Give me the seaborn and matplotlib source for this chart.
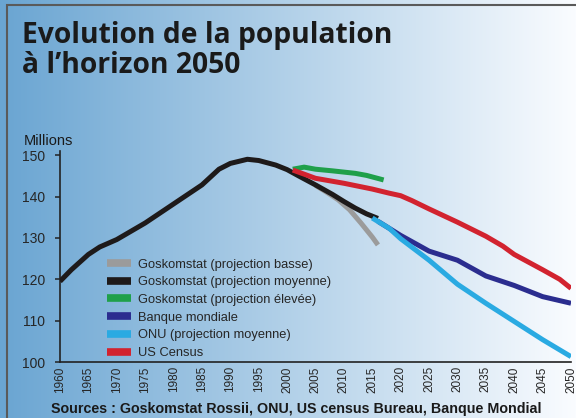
import numpy as np
import pandas as pd
import matplotlib
matplotlib.use("Agg")
import matplotlib.pyplot as plt
import seaborn as sns
from matplotlib.lines import Line2D
from matplotlib.patches import Rectangle

# historique + Goskomstat (projection moyenne)
moy_years = [1960, 1962, 1965, 1967, 1970, 1975, 1980, 1985, 1988, 1990, 1993,
             1995, 1998, 2000, 2002, 2005, 2008, 2010, 2012, 2014, 2016]
moy_vals = [119.5, 122.3, 126.0, 127.8, 129.6, 133.6, 138.2, 142.8, 146.6, 148.0, 149.0,
            148.7, 147.6, 146.5, 145.0, 142.8, 140.5, 138.8, 137.2, 135.8, 134.7]

basse_years = [2005, 2007, 2009, 2011, 2013, 2015, 2016]
basse_vals = [142.7, 141.0, 139.2, 136.8, 133.6, 130.2, 128.3]

haute_years = [2001, 2003, 2005, 2008, 2012, 2014, 2017]
haute_vals = [146.6, 147.1, 146.6, 146.2, 145.6, 145.1, 144.0]

bm_years = [2016, 2018, 2020, 2025, 2030, 2035, 2040, 2045, 2050]
bm_vals = [134.0, 132.3, 130.6, 126.8, 124.6, 120.8, 118.5, 115.8, 114.2]

onu_years = [2015, 2018, 2020, 2025, 2030, 2035, 2040, 2045, 2050]
onu_vals = [134.8, 132.3, 129.8, 124.6, 118.8, 114.2, 109.8, 105.4, 101.3]

usc_years = [2001, 2005, 2010, 2015, 2018, 2020, 2022, 2025, 2030, 2035, 2038, 2040, 2045, 2048, 2050]
usc_vals = [146.4, 144.4, 143.2, 141.8, 140.8, 140.2, 139.0, 137.0, 133.8, 130.4, 128.0,
            126.0, 122.3, 120.0, 117.8]

series = [
    ("Goskomstat (projection basse)", basse_years, basse_vals, "#9b9b9b"),
    ("Goskomstat (projection moyenne)", moy_years, moy_vals, "#1e1a1a"),
    ("Goskomstat (projection élevée)", haute_years, haute_vals, "#1fa04a"),
    ("Banque mondiale", bm_years, bm_vals, "#2b2d8f"),
    ("ONU (projection moyenne)", onu_years, onu_vals, "#2aaae2"),
    ("US Census", usc_years, usc_vals, "#d2232f"),
]
draw_order = [0, 4, 3, 2, 5, 1]

x_ticks = list(range(1960, 2051, 5))
y_ticks = [100, 110, 120, 130, 140, 150]

sns.set_style("ticks")
plt.rcParams['font.family'] = ['Liberation Sans', 'DejaVu Sans']

fig = plt.figure(figsize=(5.76, 4.18), dpi=100)

# fond en degrade
bg = fig.add_axes([0, 0, 1, 1], zorder=0)
grad = np.linspace(0, 1, 256)
left = np.array([106, 165, 210]) / 255
right = np.array([250, 252, 255]) / 255
img = left[None, :] * (1 - grad[:, None]) + right[None, :] * grad[:, None]
bg.imshow(img[None, :, :], aspect='auto', extent=[0, 1, 0, 1])
bg.add_patch(Rectangle((7 / 576, -0.1), 1.2, 1 - 5 / 418 + 0.1, fill=False,
                       edgecolor='#5a5a5a', linewidth=1.5))
bg.set_xlim(0, 1)
bg.set_ylim(0, 1)
bg.axis('off')

ax = fig.add_axes([60 / 576, 1 - 362 / 418, 511 / 576, 211 / 418], zorder=1)
ax.patch.set_alpha(0)

for i in draw_order:
    name, xs, ys, col = series[i]
    df = pd.DataFrame({"annee": xs, "pop": ys})
    sns.lineplot(data=df, x="annee", y="pop", color=col, linewidth=3.6,
                 ax=ax, solid_capstyle='butt', zorder=2 + i)

ax.set_xlim(1960, 2050)
ax.set_ylim(100, 151)
ax.set_xticks(x_ticks)
ax.set_xticklabels([str(t) for t in x_ticks], rotation=90, fontsize=8.5)
ax.set_yticks(y_ticks)
ax.set_yticklabels([str(t) for t in y_ticks], fontsize=10)
ax.set_xlabel("")
ax.set_ylabel("")
sns.despine(ax=ax)
for s in ['left', 'bottom']:
    ax.spines[s].set_color('#222222')
    ax.spines[s].set_linewidth(1.2)
ax.tick_params(axis='y', length=3.6, width=1.1, color='#222222', pad=7)
ax.tick_params(axis='x', length=0, pad=3)

handles = [Line2D([0], [0], color=c, linewidth=5.5, solid_capstyle='butt') for _, _, _, c in series]
labels = [n for n, _, _, _ in series]
leg = ax.legend(handles, labels, loc='upper left', bbox_to_anchor=(0.080, 0.521),
                frameon=False, fontsize=9.3, handlelength=1.8, handletextpad=0.55,
                labelspacing=0.44, borderpad=0)

title_font = ['Open Sans', 'DejaVu Sans']
fig.text(22 / 576, 1 - 43 / 418, "Evolution de la population", fontsize=20.3,
         fontweight='bold', color='#1a1a1a', va='baseline', family=title_font)
fig.text(22 / 576, 1 - 73 / 418, "à l\u2019horizon 2050", fontsize=20.3,
         fontweight='bold', color='#1a1a1a', va='baseline', family=title_font)
fig.text(24 / 576, 1 - 145 / 418, "Millions", fontsize=10.5, color='#1a1a1a', va='baseline')
fig.text(51 / 576, 1 - 413 / 418,
         "Sources : Goskomstat Rossii, ONU, US census Bureau, Banque Mondial",
         fontsize=10.25, fontweight='bold', color='#1a1a1a', va='baseline')

fig.savefig("out.png", dpi=100)
